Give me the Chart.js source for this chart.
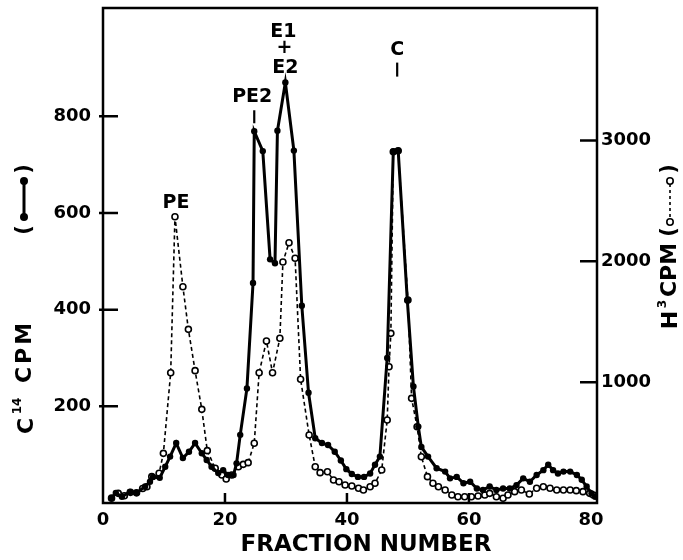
<!DOCTYPE html>
<html>
<head>
<meta charset="utf-8">
<script src="https://cdn.jsdelivr.net/npm/chart.js@4"></script>
<style>
  html, body { margin: 0; padding: 0; background: #fff; }
  #wrap { width: 683px; height: 560px; }
</style>
</head>
<body>
<div id="wrap"><canvas id="c" width="683" height="560"></canvas></div>
<script>
// C-14 counts (left axis, filled dots, solid line)
const c14Fraction = [1.4, 2.1, 3.1, 4.4, 5.5, 6.9, 7.7, 8.2, 9.3, 10.2,
  11.0, 12.0, 13.1, 14.1, 15.1, 16.2, 17.0, 17.8, 18.9, 19.7,
  20.5, 21.4, 21.9, 22.5, 23.6, 24.6, 24.8, 26.2, 27.4, 28.2,
  28.6, 29.9, 31.3, 32.6, 33.7, 34.8, 35.9, 36.9, 38.0, 39.0,
  39.9, 40.8, 41.8, 42.8, 43.8, 44.6, 45.4, 46.6, 47.6, 48.4,
  49.9, 50.9, 51.7, 52.2, 53.3, 54.7, 56.1, 56.9, 58.0, 59.1,
  60.2, 61.3, 62.3, 63.4, 64.5, 65.6, 66.7, 67.8, 68.9, 70.0,
  71.1, 72.2, 73.0, 73.8, 74.6, 75.5, 76.6, 77.7, 78.5, 79.3,
  80.1, 80.7];
const c14Cpm = [10, 21, 13, 23, 21, 34, 44, 54, 52, 75,
  96, 124, 93, 106, 124, 103, 89, 75, 62, 68,
  58, 58, 82, 141, 237, 455, 769, 728, 504, 496,
  770, 870, 729, 408, 228, 134, 124, 120, 106, 88,
  70, 60, 54, 54, 61, 79, 96, 300, 727, 729,
  419, 241, 158, 116, 96, 72, 65, 51, 54, 41,
  44, 30, 27, 34, 27, 30, 30, 37, 51, 44,
  58, 68, 79, 68, 61, 65, 65, 58, 48, 34,
  20, 13];

// H-3 counts (right axis, open circles, dashed line)
const h3Fraction = [1.4, 2.5, 3.5, 4.5, 5.5, 6.5, 7.2, 8.0, 9.2, 9.9,
  11.1, 11.8, 13.1, 14.0, 15.1, 16.2, 17.1, 18.4, 19.5, 20.2,
  21.1, 22.2, 23.0, 23.8, 24.8, 25.6, 26.8, 27.8, 29.0, 29.5,
  30.5, 31.5, 32.4, 33.8, 34.8, 35.6, 36.8, 37.8, 38.7, 39.7,
  40.8, 41.9, 42.7, 43.8, 44.6, 45.7, 46.6, 46.9, 47.2, 47.6,
  48.4, 50.0, 50.6, 51.5, 52.2, 53.2, 54.1, 55.0, 56.1, 57.2,
  58.2, 59.3, 60.4, 61.5, 62.6, 63.4, 64.5, 65.6, 66.4, 67.5,
  68.6, 69.9, 71.1, 72.2, 73.3, 74.4, 75.5, 76.6, 77.6, 78.7,
  79.8, 80.4];
const h3Cpm = [40, 80, 60, 88, 84, 120, 135, 218, 246, 411,
  1078, 2369, 1790, 1437, 1095, 775, 433, 287, 232, 199,
  232, 300, 320, 334, 494, 1078, 1341, 1078, 1363, 1994,
  2154, 2025, 1024, 563, 300, 251, 259, 190, 176, 149,
  141, 122, 108, 135, 163, 273, 687, 1128, 1404, 2907,
  2915, 1680, 866, 631, 383, 218, 163, 135, 108, 66,
  52, 52, 52, 58, 66, 80, 52, 39, 66, 94,
  108, 74, 122, 135, 122, 108, 108, 108, 102, 94,
  80, 66];

const xTicks = [0, 20, 40, 60, 80];
const leftTicks = [200, 400, 600, 800];
const rightTicks = [1000, 2000, 3000];

// Peak labels: text, fraction, series axis, value the label sits above
const peakLabels = [
  { lines: ['PE'], fraction: 11.8, axis: 'yR', value: 2369 },
  { lines: ['PE2'], fraction: 24.8, axis: 'yL', value: 769 },
  { lines: ['E1', '+', 'E2'], fraction: 29.9, axis: 'yL', value: 870 },
  { lines: ['C'], fraction: 48.4, axis: 'yL', value: 729 }
];

const FONT = '"DejaVu Sans", "Liberation Sans", sans-serif';
const INK = '#000';

const pts = (xs, ys) => xs.map((x, i) => ({ x: x, y: ys[i] }));

function rotText(ctx, text, x, y, size, spacing) {
  ctx.save();
  ctx.translate(x, y);
  ctx.rotate(-Math.PI / 2);
  ctx.font = 'bold ' + size + 'px ' + FONT;
  if (spacing) ctx.letterSpacing = spacing + 'px';
  ctx.textAlign = 'center';
  ctx.textBaseline = 'middle';
  ctx.fillText(text, spacing ? spacing / 2 : 0, 0);
  ctx.restore();
}

const framePlugin = {
  id: 'frame',
  afterDraw(chart) {
    const ctx = chart.ctx;
    const a = chart.chartArea;
    const sx = chart.scales.x, yl = chart.scales.yL, yr = chart.scales.yR;
    ctx.save();
    ctx.strokeStyle = INK;
    ctx.fillStyle = INK;
    ctx.lineWidth = 2.5;
    ctx.strokeRect(a.left, a.top, a.right - a.left, a.bottom - a.top);

    // inward tick marks
    ctx.lineWidth = 2.5;
    ctx.beginPath();
    leftTicks.forEach(v => {
      const y = yl.getPixelForValue(v);
      ctx.moveTo(a.left - 4, y); ctx.lineTo(a.left + 15, y);
    });
    rightTicks.forEach(v => {
      const y = yr.getPixelForValue(v);
      ctx.moveTo(a.right - 17, y); ctx.lineTo(a.right, y);
    });
    [20, 40, 60].forEach(v => {
      const x = sx.getPixelForValue(v);
      ctx.moveTo(x, a.bottom); ctx.lineTo(x, a.bottom - 10);
    });
    ctx.stroke();

    // peak labels
    ctx.textAlign = 'center';
    ctx.textBaseline = 'middle';
    ctx.font = 'bold 19px ' + FONT;
    peakLabels.forEach(p => {
      const x = sx.getPixelForValue(p.fraction);
      const y = chart.scales[p.axis].getPixelForValue(p.value);
      if (p.lines[0] === 'PE') {
        ctx.fillText('PE', x + 1, y - 14);
      } else if (p.lines[0] === 'PE2') {
        ctx.fillText('PE2', x - 2, y - 34);
        ctx.beginPath(); ctx.lineWidth = 2.2;
        ctx.moveTo(x, y - 21); ctx.lineTo(x, y - 8); ctx.stroke();
      } else if (p.lines.length === 3) {
        ctx.fillText('E1', x - 2, y - 50);
        ctx.fillText('+', x - 1, y - 34);
        ctx.fillText('E2', x, y - 14);
      } else {
        ctx.fillText('C', x - 1, y - 101);
        ctx.beginPath(); ctx.lineWidth = 2.2;
        ctx.moveTo(x - 1, y - 88); ctx.lineTo(x - 1, y - 74); ctx.stroke();
      }
    });

    // x axis title
    ctx.font = 'bold 23px ' + FONT;
    ctx.fillText('FRACTION NUMBER', 366, 545);

    // left axis title with its series key
    rotText(ctx, 'C', 27, 426, 22);
    rotText(ctx, '14', 18, 406, 12);
    rotText(ctx, 'CPM', 25, 353, 22, 3);
    rotText(ctx, '(', 25, 230, 21);
    rotText(ctx, ')', 25, 169, 21);
    ctx.beginPath(); ctx.lineWidth = 3;
    ctx.moveTo(24, 181); ctx.lineTo(24, 217); ctx.stroke();
    [181, 217].forEach(y => { ctx.beginPath(); ctx.arc(24, y, 4, 0, Math.PI * 2); ctx.fill(); });

    // right axis title with its series key
    rotText(ctx, 'H', 671, 320, 22);
    rotText(ctx, '3', 663, 304, 12);
    rotText(ctx, 'CPM', 670, 270, 22);
    rotText(ctx, '(', 670, 232, 21);
    rotText(ctx, ')', 670, 169, 21);
    ctx.beginPath(); ctx.lineWidth = 1.6; ctx.setLineDash([3, 3]);
    ctx.moveTo(670, 184); ctx.lineTo(670, 219); ctx.stroke();
    ctx.setLineDash([]);
    ctx.fillStyle = '#fff';
    [181, 222].forEach(y => { ctx.beginPath(); ctx.arc(670, y, 3.2, 0, Math.PI * 2); ctx.fill(); ctx.stroke(); });
    ctx.restore();
  }
};

const tickFont = { family: FONT, size: 18, weight: 'bold' };
const plain = v => String(v);
const noPad = s => { s.paddingTop = 0; s.paddingBottom = 0; s.paddingLeft = 0; s.paddingRight = 0; };

new Chart(document.getElementById('c'), {
  type: 'line',
  data: {
    datasets: [
      {
        label: 'C14',
        data: pts(c14Fraction, c14Cpm),
        yAxisID: 'yL',
        borderColor: INK,
        borderWidth: 3,
        pointRadius: 3.2,
        pointBackgroundColor: INK,
        pointBorderWidth: 0,
        tension: 0
      },
      {
        label: 'H3',
        data: pts(h3Fraction, h3Cpm),
        yAxisID: 'yR',
        borderColor: INK,
        borderWidth: 1.6,
        borderDash: [4, 3],
        pointRadius: 3,
        pointBackgroundColor: '#fff',
        pointBorderColor: INK,
        pointBorderWidth: 1.6,
        tension: 0
      }
    ]
  },
  options: {
    responsive: false,
    animation: false,
    layout: { padding: { top: 8, left: 0, right: 0, bottom: 0 } },
    plugins: { legend: { display: false }, tooltip: { enabled: false } },
    scales: {
      x: {
        type: 'linear', min: 0, max: 81,
        afterBuildTicks: s => { s.ticks = xTicks.map(v => ({ value: v })); },
        afterFit: s => { s.height = 57; noPad(s); },
        grid: { display: false, drawTicks: false },
        border: { display: false },
        ticks: { font: tickFont, color: INK, padding: 7, maxRotation: 0, autoSkip: false, callback: plain }
      },
      yL: {
        position: 'left', min: 0, max: 1024,
        afterBuildTicks: s => { s.ticks = leftTicks.map(v => ({ value: v })); },
        afterFit: s => { s.width = 103; noPad(s); },
        grid: { display: false, drawTicks: false },
        border: { display: false },
        ticks: { font: tickFont, color: INK, padding: 12, autoSkip: false, callback: plain }
      },
      yR: {
        position: 'right', min: 0, max: 4096,
        afterBuildTicks: s => { s.ticks = rightTicks.map(v => ({ value: v })); },
        afterFit: s => { s.width = 86; noPad(s); },
        grid: { display: false, drawTicks: false },
        border: { display: false },
        ticks: { font: tickFont, color: INK, padding: 4, autoSkip: false, callback: plain }
      }
    }
  },
  plugins: [framePlugin]
});
</script>
</body>
</html>
